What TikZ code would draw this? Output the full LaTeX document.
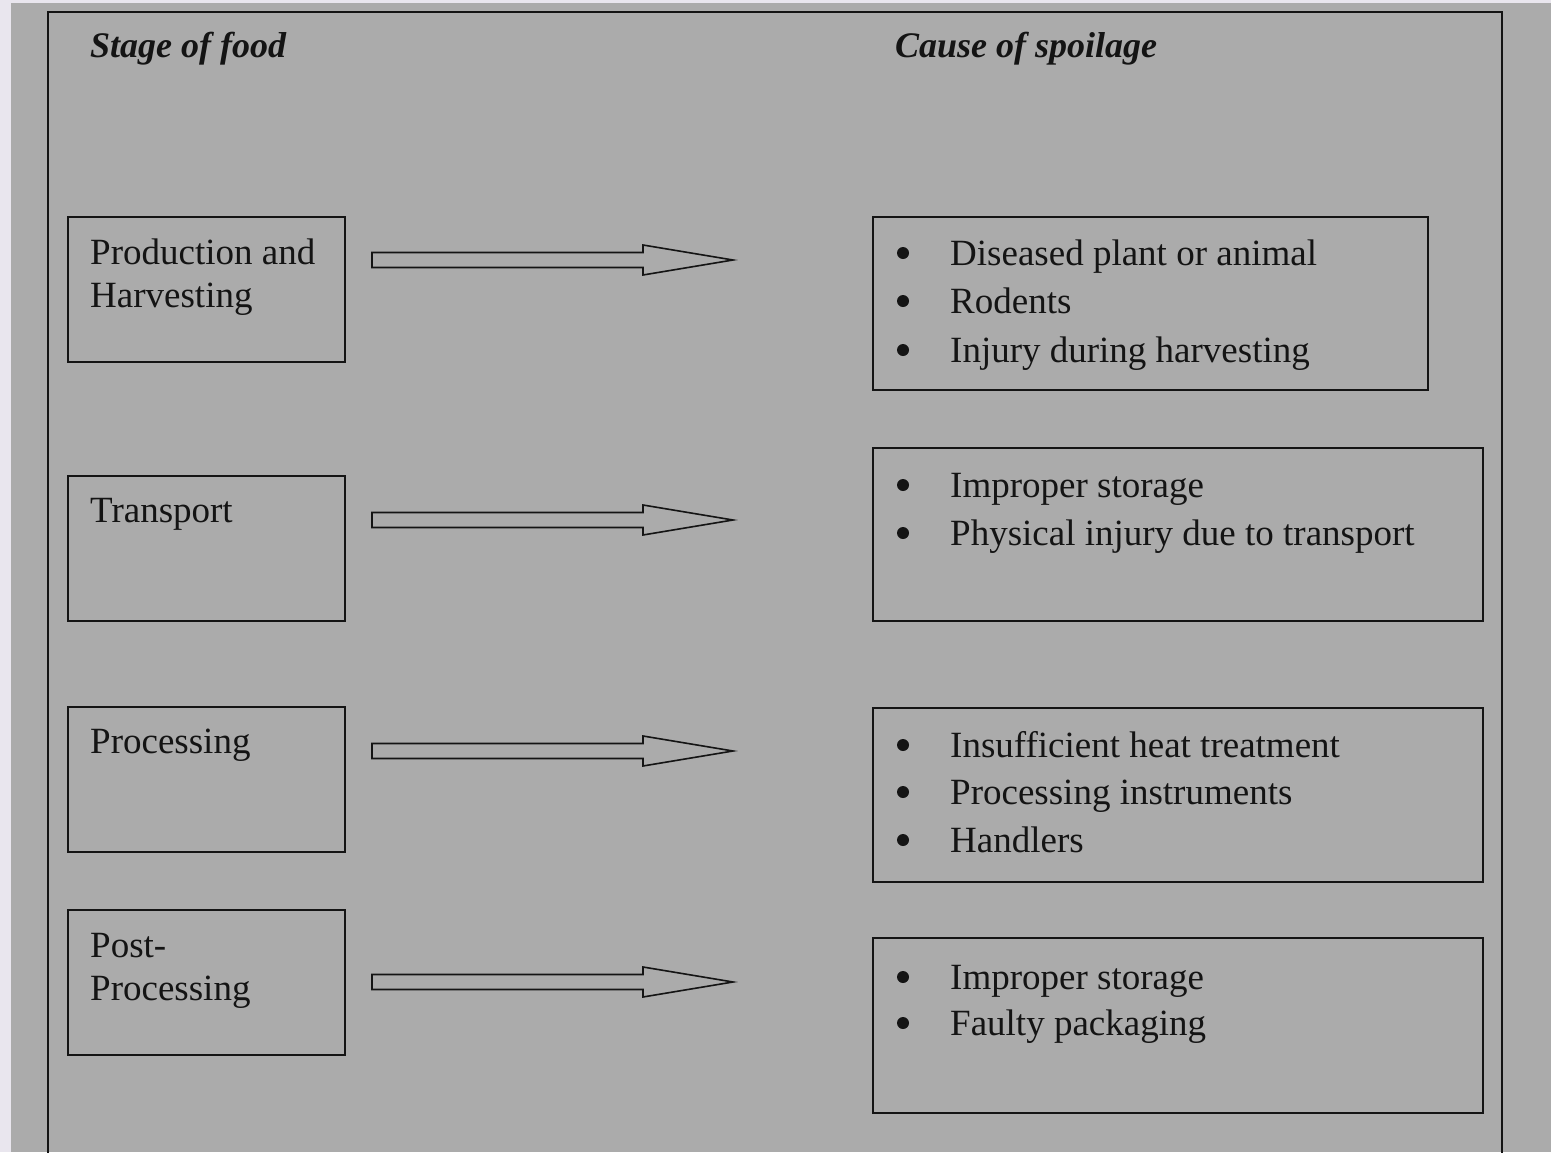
\documentclass[tikz,border=0pt]{standalone}
\usepackage{fontspec}
\setmainfont{Liberation Serif}
\usetikzlibrary{calc}
\definecolor{bggray}{RGB}{171,171,171}
\definecolor{edgelight}{RGB}{233,230,238}
\definecolor{ink}{RGB}{20,20,20}
\tikzset{
  stagebox/.style={draw=ink, line width=1.8pt, anchor=north west, inner sep=0pt},
  txt/.style={anchor=base west, inner sep=0pt, text=ink, font=\fontsize{37}{44}\selectfont},
  ttl/.style={anchor=base west, inner sep=0pt, text=ink, font=\fontsize{36}{42}\selectfont\bfseries\itshape},
  dot/.style={circle, fill=ink, inner sep=0pt, minimum size=12pt},
  fatarrow/.style={draw=ink, line width=1.6pt, fill=bggray, line join=miter},
}
\newcommand\stagebox[5]{% name, x1, y1, x2, y2
  \node[stagebox, minimum width={#4-#2}, minimum height={#5-#3}] (#1) at (#2,#3) {};
}
\newcommand\bitem[3]{% name, baseline y, text
  \node[dot] (#1d) at (903,{#2-12}) {};
  \node[txt] (#1) at (950,#2) {#3};
}
\newcommand\fatarrowdraw[2]{% start coordinate, end coordinate
  \draw[fatarrow] ($(#1)+(0,-7.5)$) -- ($(#2)+(-90,-7.5)$) -- ($(#2)+(-90,-15)$) -- (#2)
    -- ($(#2)+(-90,15)$) -- ($(#2)+(-90,7.5)$) -- ($(#1)+(0,7.5)$) -- cycle;
}
\begin{document}
\begin{tikzpicture}[x=1pt,y=-1pt]
\useasboundingbox (0,0) rectangle (1551,1152);
\fill[edgelight] (0,0) rectangle (1551,1152);
\fill[bggray] (11,3) rectangle (1551,1152);
\draw[ink, line width=1.8pt] (48,1160) -- (48,12) -- (1502,12) -- (1502,1160);

\node[ttl] (t1) at (90,57) {Stage of food};
\node[ttl] (t2) at (895,57) {Cause of spoilage};

% left boxes
\stagebox{L1}{67}{216}{344}{361}
\stagebox{L2}{67}{475}{344}{620}
\stagebox{L3}{67}{706}{344}{851}
\stagebox{L4}{67}{909}{344}{1054}
\node[txt] (l1a) at (90,264) {Production and};
\node[txt] (l1b) at (90,307) {Harvesting};
\node[txt] (l2a) at (90,522) {Transport};
\node[txt] (l3a) at (90,753) {Processing};
\node[txt] (l4a) at (90,957) {Post-};
\node[txt] (l4b) at (90,1000) {Processing};

% right boxes
\stagebox{R1}{872}{216}{1427}{389}
\stagebox{R2}{872}{447}{1482}{620}
\stagebox{R3}{872}{707}{1482}{881}
\stagebox{R4}{872}{937}{1482}{1112}
\bitem{r1a}{265}{Diseased plant or animal}
\bitem{r1b}{313}{Rodents}
\bitem{r1c}{362}{Injury during harvesting}
\bitem{r2a}{497}{Improper storage}
\bitem{r2b}{545}{Physical injury due to transport}
\bitem{r3a}{757}{Insufficient heat treatment}
\bitem{r3b}{804}{Processing instruments}
\bitem{r3c}{852}{Handlers}
\bitem{r4a}{989}{Improper storage}
\bitem{r4b}{1035}{Faulty packaging}

% arrows
\coordinate (a1s) at (372,260); \coordinate (a1e) at (733,260);
\coordinate (a2s) at (372,520); \coordinate (a2e) at (733,520);
\coordinate (a3s) at (372,751); \coordinate (a3e) at (733,751);
\coordinate (a4s) at (372,982); \coordinate (a4e) at (733,982);
\fatarrowdraw{a1s}{a1e}
\fatarrowdraw{a2s}{a2e}
\fatarrowdraw{a3s}{a3e}
\fatarrowdraw{a4s}{a4e}
\end{tikzpicture}
\end{document}
